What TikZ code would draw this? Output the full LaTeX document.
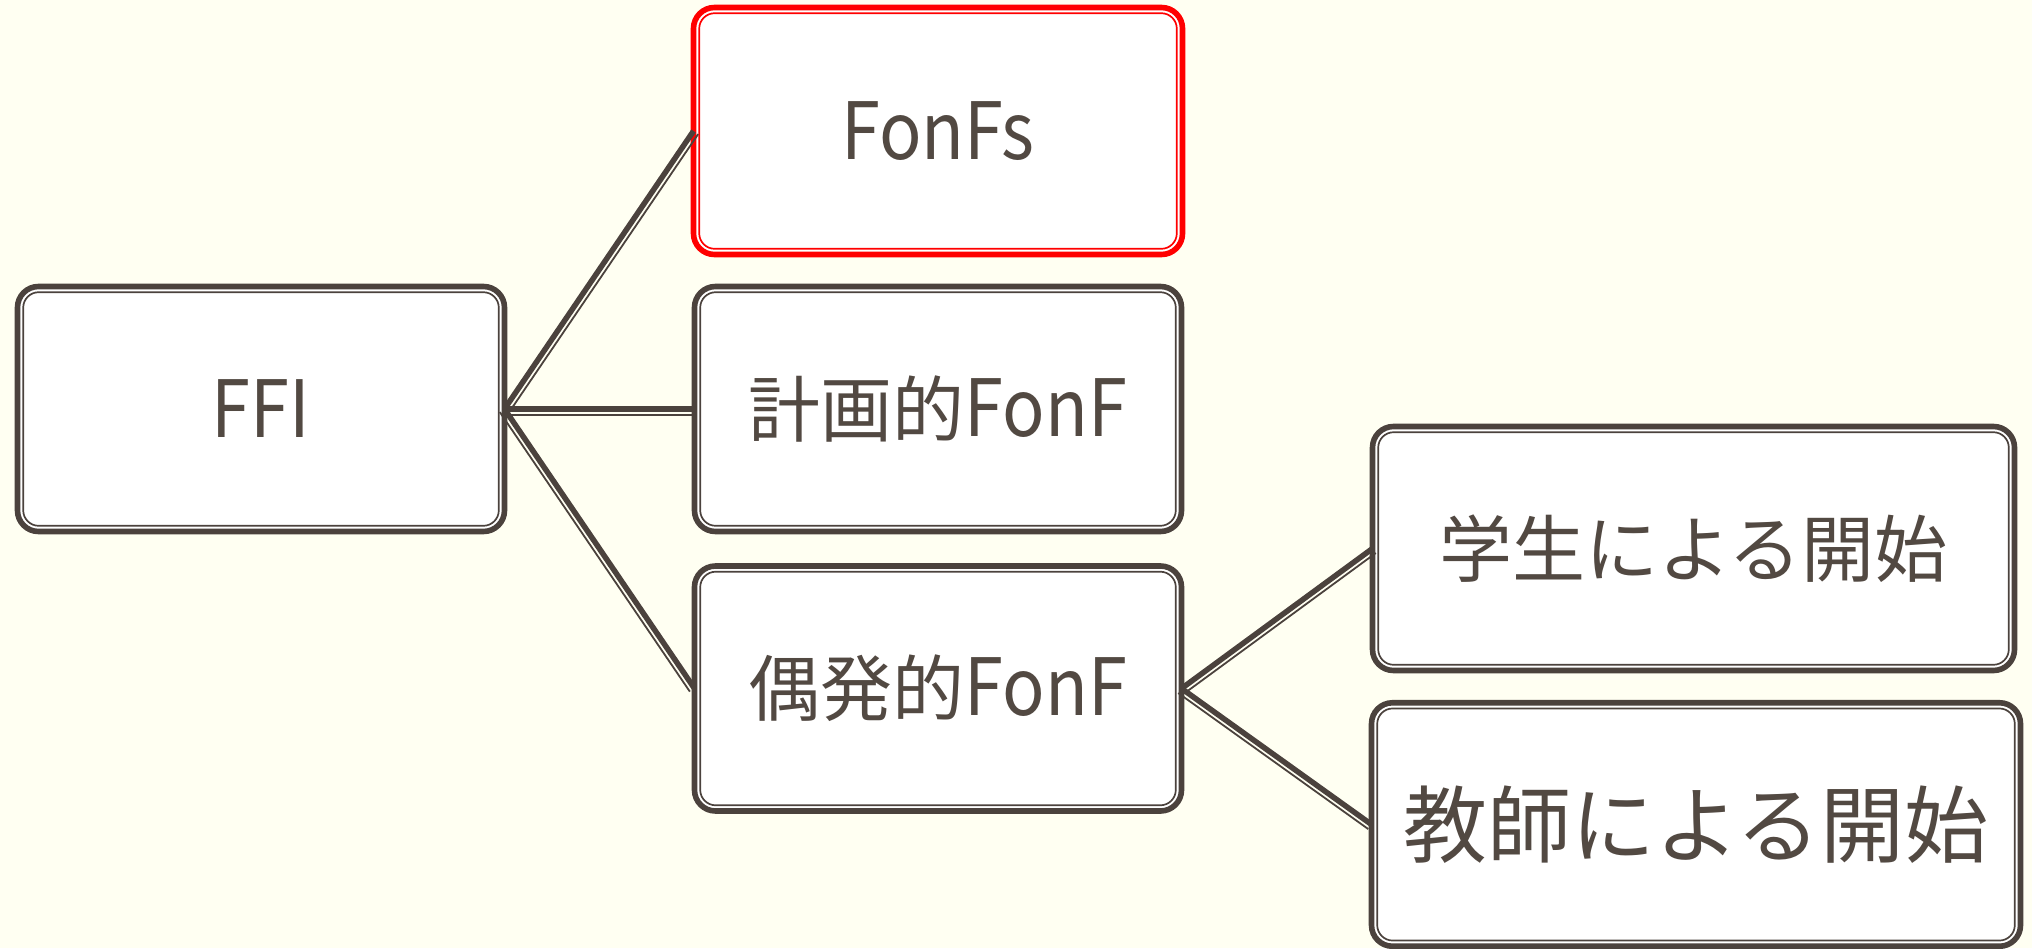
\documentclass[tikz,border=0pt]{standalone}
\usepackage{fontspec}
\setmainfont{Noto Sans CJK JP}
\newfontfamily\latf{Noto Sans CJK JP}[FakeStretch=0.89]
\usetikzlibrary{calc}
\definecolor{bgc}{HTML}{FFFFF2}
\definecolor{linec}{HTML}{4B423D}
\definecolor{textc}{HTML}{524942}
\definecolor{redc}{HTML}{FF0000}
\tikzset{
  box/.style={draw=linec, line width=5.6pt, fill=white, rounded corners=21pt,
    outer sep=0pt, inner sep=0pt, text=textc, align=center},
  leftbox/.style={box, minimum width=487pt, minimum height=245pt},
  innerline/.style={draw=linec, line width=1.7pt, rounded corners=15.5pt},
  thickconn/.style={draw=linec, line width=5.5pt},
  thinconn/.style={draw=linec, line width=1.8pt},
  cjkfont/.style={font=\fontsize{72}{80}\selectfont},
}
\newcommand\lat[1]{{\latf\fontsize{79}{80}\selectfont #1}}
\newcommand\linkto[2]{%
  \draw[thickconn] (#1) -- (#2);
  \draw[thinconn] ($(#1)!5.6pt!-90:(#2)$) -- ($(#2)!5.6pt!90:(#1)$);}
\begin{document}
\begin{tikzpicture}[x=1pt,y=-1pt]
\fill[bgc] (0,0) rectangle (2032,948);
\useasboundingbox (0,0) rectangle (2032,948);
\node[leftbox, cjkfont] (ffi) at (261,409) {\lat{FFI}};
\node[leftbox, cjkfont, draw=redc, minimum width=489pt, minimum height=247pt] (fonfs) at (938,131) {\lat{FonFs}};
\node[leftbox, cjkfont] (plan) at (938,409) {計画的\lat{FonF}};
\node[leftbox, cjkfont] (inc) at (938,688.5) {偶発的\lat{FonF}};
\node[box, minimum width=642pt, minimum height=244pt, font=\fontsize{73}{80}\selectfont] (stu) at (1693.5,548.5) {学生による開始};
\node[box, minimum width=649pt, minimum height=243.5pt, font=\fontsize{84}{90}\selectfont] (tea) at (1696,824.5) {教師による開始};
\foreach \n in {ffi,plan,inc,stu,tea}
  \draw[innerline] ([shift={(5.7pt,5.7pt)}]\n.south west) rectangle ([shift={(-5.7pt,-5.7pt)}]\n.north east);
\draw[innerline, draw=redc] ([shift={(5.7pt,5.7pt)}]fonfs.south west) rectangle ([shift={(-5.7pt,-5.7pt)}]fonfs.north east);
\linkto{ffi.east}{fonfs.west}
\linkto{ffi.east}{plan.west}
\linkto{ffi.east}{inc.west}
\linkto{inc.east}{stu.west}
\linkto{inc.east}{tea.west}
\end{tikzpicture}
\end{document}
